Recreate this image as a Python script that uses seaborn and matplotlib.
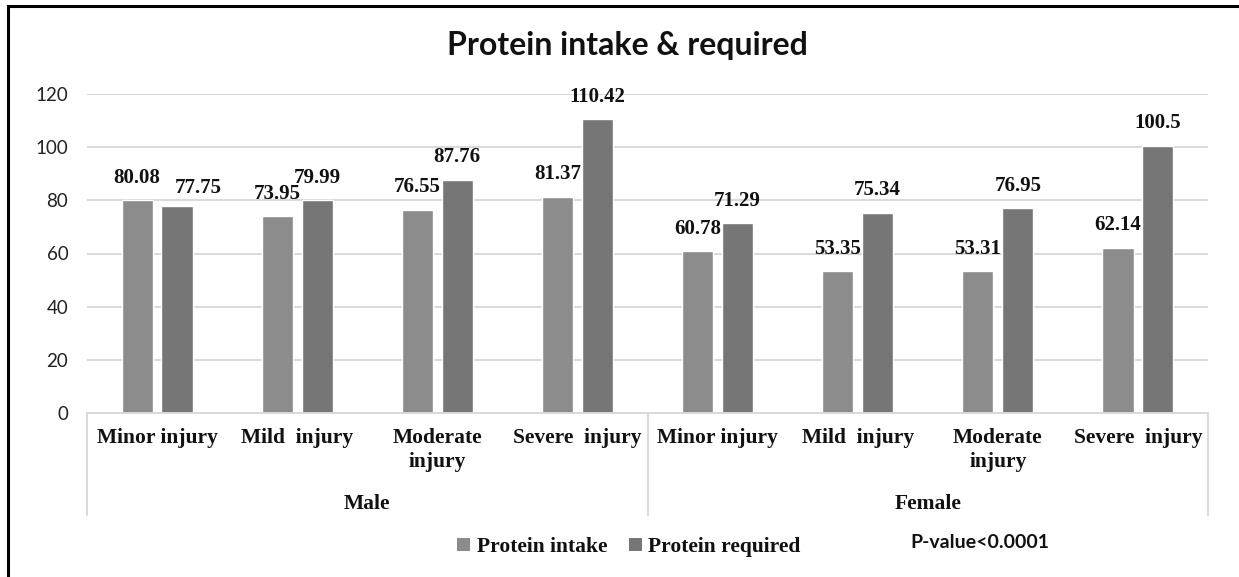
import matplotlib
matplotlib.use("Agg")
import matplotlib.pyplot as plt
import seaborn as sns
import pandas as pd
from matplotlib.patches import Patch, Rectangle

# ---- data ----
groups = ["Male"] * 4 + ["Female"] * 4
injuries = ["Minor injury", "Mild  injury", "Moderate\ninjury", "Severe  injury",
            "Minor injury", "Mild  injury", "Moderate\ninjury", "Severe  injury"]
protein_intake = [80.08, 73.95, 76.55, 81.37, 60.78, 53.35, 53.31, 62.14]
protein_required = [77.75, 79.99, 87.76, 110.42, 71.29, 75.34, 76.95, 100.5]
series_names = ["Protein intake", "Protein required"]
yticks = [0, 20, 40, 60, 80, 100, 120]

keys = [f"{g}|{i}|{k}" for k, (g, i) in enumerate(zip(groups, injuries))]
df = pd.DataFrame({
    "key": keys * 2,
    "value": protein_intake + protein_required,
    "series": [series_names[0]] * 8 + [series_names[1]] * 8,
})

sns.set_theme(style="white")
SERIF = "Liberation Serif"
SANS = "Lato"
plt.rcParams["font.family"] = [SANS, "DejaVu Sans"]

W, H = 1239, 577
fig = plt.figure(figsize=(W / 100, H / 100), dpi=100)
ax = fig.add_axes([87 / W, 1 - 413 / H, (1208 - 87) / W, (413 - 94) / H])

colors = {"Protein intake": "#8c8c8c", "Protein required": "#767676"}
sns.barplot(data=df, x="key", y="value", hue="series", order=keys,
            hue_order=series_names, palette=colors, width=0.57, gap=0.22,
            saturation=1, ax=ax, legend=False, errorbar=None)

ax.set_ylim(0, 120)
ax.set_xlim(-0.5, 7.5)
ax.set_yticks(yticks)
ax.set_yticklabels([str(t) for t in yticks], fontsize=13.5, color="#222222",
                   family=[SANS, "DejaVu Sans"])
ax.tick_params(axis="y", length=0, pad=13.5)
ax.tick_params(axis="x", length=0, pad=11)
ax.set_xticks(range(8))
ax.set_xticklabels(injuries, fontsize=15.5, fontweight="bold", family=SERIF,
                   color="#111111", linespacing=1.25)
ax.set_xlabel("")
ax.set_ylabel("")
ax.grid(axis="y", color="#d9d9d9", linewidth=1.4)
ax.set_axisbelow(True)
for s in ["top", "right", "left"]:
    ax.spines[s].set_visible(False)
ax.spines["bottom"].set_color("#d9d9d9")
ax.spines["bottom"].set_linewidth(1.4)

# value labels
for ci, cont in enumerate(ax.containers):
    texts = ax.bar_label(cont, labels=[f"{v:g}" for v in cont.datavalues],
                         padding=9, fontsize=15, fontweight="bold", family=SERIF,
                         color="#111111")
    if ci == 1:
        # first "required" label sits to the right in the reference
        texts[0].xyann = (15, 6)

# group separators and labels
sep_h = (515 - 413) / (413 - 94)
for xpos in [-0.5, 3.5, 7.5]:
    ax.plot([xpos, xpos], [0, -sep_h * 120], color="#d9d9d9", linewidth=1.4,
            clip_on=False, transform=ax.transData)
for gx, gname in [(1.5, "Male"), (5.5, "Female")]:
    ax.text(gx, -(504 - 413) / (413 - 94) * 120, gname, ha="center", va="center",
            fontsize=15.5, fontweight="bold", family=SERIF, color="#111111",
            clip_on=False)

# title
fig.text(627 / W, 1 - 45 / H, "Protein intake & required", ha="center", va="center",
         fontsize=23, fontweight="bold", family=SANS, color="#111111")

# legend
handles = [Patch(facecolor=colors[n], edgecolor="none", label=n) for n in series_names]
leg = fig.legend(handles=handles, loc="center", bbox_to_anchor=(629 / W, 1 - 547 / H),
                 ncol=2, frameon=False, handlelength=0.6, handleheight=0.6,
                 handletextpad=0.3, columnspacing=1.0,
                 prop={"family": SERIF, "weight": "bold", "size": 15.5})
for t in leg.get_texts():
    t.set_color("#111111")

fig.text(980 / W, 1 - 543 / H, "P-value<0.0001", ha="center", va="center",
         fontsize=14, fontweight="bold", family=SANS, color="#111111")

# outer frame
fig.add_artist(Rectangle((8 / W, -0.05), 1.2, 1 - 6 / H + 0.05, transform=fig.transFigure,
                         fill=False, edgecolor="black", linewidth=2.2))

fig.savefig("out.png", dpi=100, facecolor="white")
